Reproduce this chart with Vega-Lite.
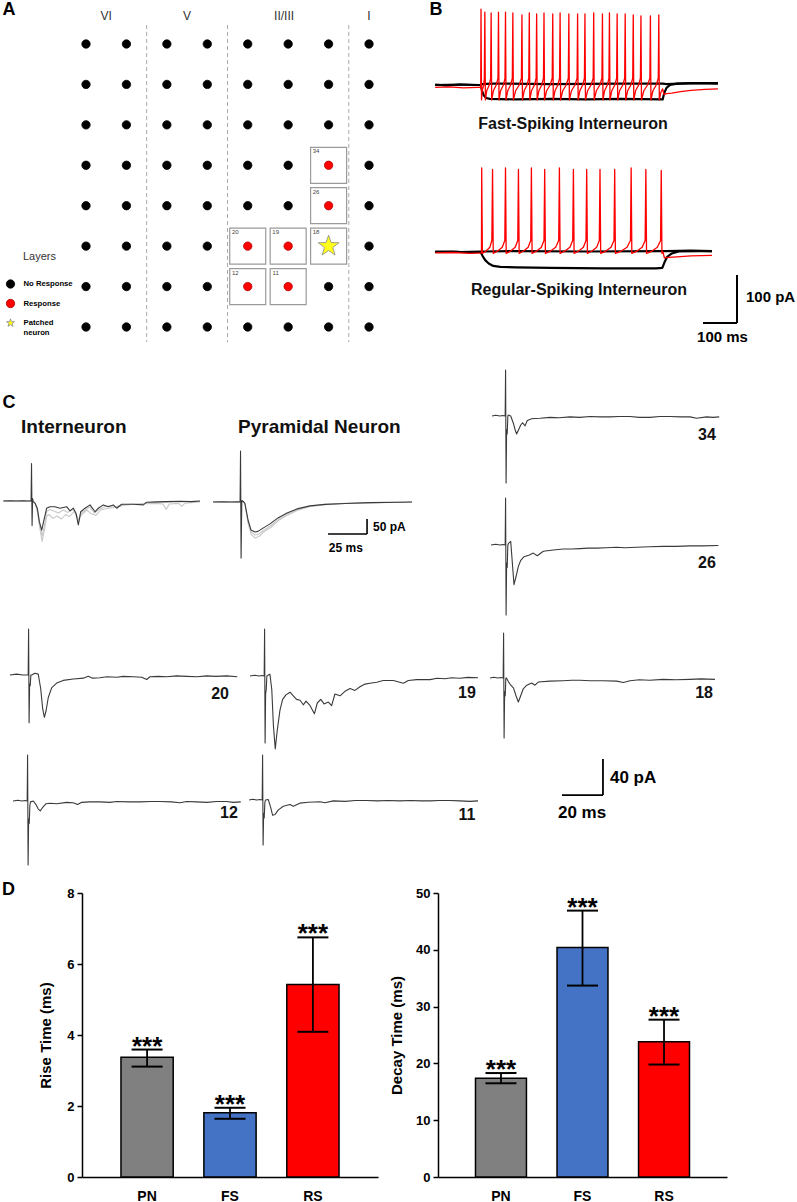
{
"$schema": "https://vega.github.io/schema/vega-lite/v6.json",
"background": "white",
"padding": 0,
"spacing": 0,
"config": {
  "view": {"stroke": null},
  "font": "Liberation Sans",
  "line": {"strokeJoin": "round"},
  "concat": {"spacing": 0}
},
"datasets": {
  "grid": [
    {"col":1,"row":1,"status":"No Response"},{"col":2,"row":1,"status":"No Response"},{"col":3,"row":1,"status":"No Response"},{"col":4,"row":1,"status":"No Response"},{"col":5,"row":1,"status":"No Response"},{"col":6,"row":1,"status":"No Response"},{"col":7,"row":1,"status":"No Response"},{"col":8,"row":1,"status":"No Response"},
    {"col":1,"row":2,"status":"No Response"},{"col":2,"row":2,"status":"No Response"},{"col":3,"row":2,"status":"No Response"},{"col":4,"row":2,"status":"No Response"},{"col":5,"row":2,"status":"No Response"},{"col":6,"row":2,"status":"No Response"},{"col":7,"row":2,"status":"No Response"},{"col":8,"row":2,"status":"No Response"},
    {"col":1,"row":3,"status":"No Response"},{"col":2,"row":3,"status":"No Response"},{"col":3,"row":3,"status":"No Response"},{"col":4,"row":3,"status":"No Response"},{"col":5,"row":3,"status":"No Response"},{"col":6,"row":3,"status":"No Response"},{"col":7,"row":3,"status":"No Response"},{"col":8,"row":3,"status":"No Response"},
    {"col":1,"row":4,"status":"No Response"},{"col":2,"row":4,"status":"No Response"},{"col":3,"row":4,"status":"No Response"},{"col":4,"row":4,"status":"No Response"},{"col":5,"row":4,"status":"No Response"},{"col":6,"row":4,"status":"No Response"},{"col":7,"row":4,"status":"Response"},{"col":8,"row":4,"status":"No Response"},
    {"col":1,"row":5,"status":"No Response"},{"col":2,"row":5,"status":"No Response"},{"col":3,"row":5,"status":"No Response"},{"col":4,"row":5,"status":"No Response"},{"col":5,"row":5,"status":"No Response"},{"col":6,"row":5,"status":"No Response"},{"col":7,"row":5,"status":"Response"},{"col":8,"row":5,"status":"No Response"},
    {"col":1,"row":6,"status":"No Response"},{"col":2,"row":6,"status":"No Response"},{"col":3,"row":6,"status":"No Response"},{"col":4,"row":6,"status":"No Response"},{"col":5,"row":6,"status":"Response"},{"col":6,"row":6,"status":"Response"},{"col":7,"row":6,"status":"Patched neuron"},{"col":8,"row":6,"status":"No Response"},
    {"col":1,"row":7,"status":"No Response"},{"col":2,"row":7,"status":"No Response"},{"col":3,"row":7,"status":"No Response"},{"col":4,"row":7,"status":"No Response"},{"col":5,"row":7,"status":"Response"},{"col":6,"row":7,"status":"Response"},{"col":7,"row":7,"status":"No Response"},{"col":8,"row":7,"status":"No Response"},
    {"col":1,"row":8,"status":"No Response"},{"col":2,"row":8,"status":"No Response"},{"col":3,"row":8,"status":"No Response"},{"col":4,"row":8,"status":"No Response"},{"col":5,"row":8,"status":"No Response"},{"col":6,"row":8,"status":"No Response"},{"col":7,"row":8,"status":"No Response"},{"col":8,"row":8,"status":"No Response"}
  ],
  "boxes": [
    {"col":7,"row":4,"site":"34"},{"col":7,"row":5,"site":"26"},{"col":5,"row":6,"site":"20"},{"col":6,"row":6,"site":"19"},{"col":7,"row":6,"site":"18"},{"col":5,"row":7,"site":"12"},{"col":6,"row":7,"site":"11"}
  ],
  "boundaries": [{"between":2.5},{"between":4.5},{"between":7.5}],
  "layers": [{"layer":"VI","center":1.5},{"layer":"V","center":3.5},{"layer":"II/III","center":5.9},{"layer":"I","center":8}],
  "fs_black": [
    {"sweep":"hyper","t":-131,"v":1},{"sweep":"hyper","t":-100,"v":-1},{"sweep":"hyper","t":-60,"v":1},{"sweep":"hyper","t":-20,"v":0},{"sweep":"hyper","t":-1,"v":0},{"sweep":"hyper","t":3,"v":-12},{"sweep":"hyper","t":8,"v":-22},{"sweep":"hyper","t":15,"v":-27},{"sweep":"hyper","t":25,"v":-29},{"sweep":"hyper","t":100,"v":-30},{"sweep":"hyper","t":200,"v":-29},{"sweep":"hyper","t":300,"v":-30},{"sweep":"hyper","t":400,"v":-29},{"sweep":"hyper","t":519,"v":-30},{"sweep":"hyper","t":523,"v":-18},{"sweep":"hyper","t":530,"v":-6},{"sweep":"hyper","t":540,"v":0},{"sweep":"hyper","t":560,"v":3},{"sweep":"hyper","t":620,"v":4},{"sweep":"hyper","t":677,"v":3},
    {"sweep":"sub","t":-131,"v":0},{"sweep":"sub","t":-60,"v":1},{"sweep":"sub","t":-1,"v":0},{"sweep":"sub","t":5,"v":2},{"sweep":"sub","t":30,"v":3},{"sweep":"sub","t":200,"v":2},{"sweep":"sub","t":400,"v":3},{"sweep":"sub","t":519,"v":3},{"sweep":"sub","t":530,"v":2},{"sweep":"sub","t":600,"v":4},{"sweep":"sub","t":677,"v":4}
  ],
  "fs_red": [
    {"t":-131,"v":-5},{"t":-90,"v":-4},{"t":-50,"v":-6},{"t":-10,"v":-5},{"t":-0.8,"v":-5},{"t":0,"v":158},
    {"t":1.5,"v":-31},{"t":3.3,"v":-12},{"t":7.7,"v":0},{"t":9.5,"v":14},{"t":11,"v":152},
    {"t":12.5,"v":-31},{"t":16.4,"v":-12},{"t":23.6,"v":0},{"t":27.5,"v":14},{"t":29,"v":150},
    {"t":30.5,"v":-31},{"t":35.3,"v":-12},{"t":43.7,"v":0},{"t":48.5,"v":14},{"t":50,"v":152},
    {"t":51.5,"v":-31},{"t":56,"v":-12},{"t":64,"v":0},{"t":68.5,"v":14},{"t":70,"v":152},
    {"t":71.5,"v":-31},{"t":76.3,"v":-12},{"t":84.7,"v":0},{"t":89.5,"v":14},{"t":91,"v":150},
    {"t":92.5,"v":-31},{"t":98.8,"v":-12},{"t":109.2,"v":0},{"t":115.5,"v":14},{"t":117,"v":146},
    {"t":118.5,"v":-31},{"t":123.3,"v":-12},{"t":131.7,"v":0},{"t":136.5,"v":14},{"t":138,"v":150},
    {"t":139.5,"v":-31},{"t":144.3,"v":-12},{"t":152.7,"v":0},{"t":157.5,"v":14},{"t":159,"v":148},
    {"t":160.5,"v":-31},{"t":165.3,"v":-12},{"t":173.7,"v":0},{"t":178.5,"v":14},{"t":180,"v":150},
    {"t":181.5,"v":-31},{"t":187.5,"v":-12},{"t":197.5,"v":0},{"t":203.5,"v":14},{"t":205,"v":148},
    {"t":206.5,"v":-31},{"t":211.3,"v":-12},{"t":219.7,"v":0},{"t":224.5,"v":14},{"t":226,"v":150},
    {"t":227.5,"v":-31},{"t":233.5,"v":-12},{"t":243.5,"v":0},{"t":249.5,"v":14},{"t":251,"v":148},
    {"t":252.5,"v":-31},{"t":258.5,"v":-12},{"t":268.5,"v":0},{"t":274.5,"v":14},{"t":276,"v":148},
    {"t":277.5,"v":-31},{"t":282.3,"v":-12},{"t":290.7,"v":0},{"t":295.5,"v":14},{"t":297,"v":148},
    {"t":298.5,"v":-31},{"t":304.5,"v":-12},{"t":314.5,"v":0},{"t":320.5,"v":14},{"t":322,"v":150},
    {"t":323.5,"v":-31},{"t":329.5,"v":-12},{"t":339.5,"v":0},{"t":345.5,"v":14},{"t":347,"v":148},
    {"t":348.5,"v":-31},{"t":353,"v":-12},{"t":361,"v":0},{"t":365.5,"v":14},{"t":367,"v":150},
    {"t":368.5,"v":-31},{"t":373.6,"v":-12},{"t":382.4,"v":0},{"t":387.5,"v":14},{"t":389,"v":148},
    {"t":390.5,"v":-31},{"t":395.9,"v":-12},{"t":405.1,"v":0},{"t":410.5,"v":14},{"t":412,"v":148},
    {"t":413.5,"v":-31},{"t":418.9,"v":-12},{"t":428.1,"v":0},{"t":433.5,"v":14},{"t":435,"v":146},
    {"t":436.5,"v":-31},{"t":441.6,"v":-12},{"t":450.4,"v":0},{"t":455.5,"v":14},{"t":457,"v":144},
    {"t":458.5,"v":-31},{"t":465.1,"v":-12},{"t":475.9,"v":0},{"t":482.5,"v":14},{"t":484,"v":144},
    {"t":485.5,"v":-31},{"t":491.2,"v":-12},{"t":500.8,"v":0},{"t":506.5,"v":14},{"t":508,"v":146},
    {"t":509.5,"v":-31},{"t":514,"v":-15},{"t":519,"v":-8},{"t":523,"v":-20},{"t":530,"v":-18},{"t":545,"v":-17},{"t":570,"v":-14},{"t":600,"v":-11},{"t":640,"v":-9},{"t":677,"v":-8}
  ],
  "rs_black": [
    {"sweep":"hyper","t":-131,"v":0},{"sweep":"hyper","t":-80,"v":1},{"sweep":"hyper","t":-30,"v":-1},{"sweep":"hyper","t":-1,"v":0},{"sweep":"hyper","t":5,"v":-9},{"sweep":"hyper","t":12,"v":-17},{"sweep":"hyper","t":22,"v":-24},{"sweep":"hyper","t":35,"v":-29},{"sweep":"hyper","t":55,"v":-31},{"sweep":"hyper","t":100,"v":-32},{"sweep":"hyper","t":200,"v":-33},{"sweep":"hyper","t":350,"v":-34},{"sweep":"hyper","t":500,"v":-34},{"sweep":"hyper","t":518,"v":-33},{"sweep":"hyper","t":524,"v":-22},{"sweep":"hyper","t":532,"v":-10},{"sweep":"hyper","t":545,"v":-3},{"sweep":"hyper","t":565,"v":1},{"sweep":"hyper","t":620,"v":2},{"sweep":"hyper","t":660,"v":2},
    {"sweep":"sub","t":-131,"v":1},{"sweep":"sub","t":-60,"v":0},{"sweep":"sub","t":-1,"v":1},{"sweep":"sub","t":10,"v":1},{"sweep":"sub","t":100,"v":2},{"sweep":"sub","t":300,"v":1},{"sweep":"sub","t":518,"v":2},{"sweep":"sub","t":530,"v":2},{"sweep":"sub","t":600,"v":3},{"sweep":"sub","t":660,"v":2}
  ],
  "rs_red": [
    {"t":-131,"v":-2},{"t":-80,"v":-1},{"t":-30,"v":-3},{"t":1.3,"v":-2},{"t":2,"v":175},
    {"t":4,"v":-3},{"t":14.4,"v":2},{"t":25.3,"v":10},{"t":31,"v":24},{"t":33,"v":172},
    {"t":35,"v":-3},{"t":47.8,"v":2},{"t":60.8,"v":10},{"t":68,"v":24},{"t":70,"v":175},
    {"t":72,"v":-3},{"t":84.8,"v":2},{"t":97.8,"v":10},{"t":105,"v":24},{"t":107,"v":172},
    {"t":109,"v":-3},{"t":121.8,"v":2},{"t":134.8,"v":10},{"t":142,"v":24},{"t":144,"v":175},
    {"t":146,"v":-3},{"t":159.2,"v":2},{"t":172.5,"v":10},{"t":180,"v":24},{"t":182,"v":172},
    {"t":184,"v":-3},{"t":198.8,"v":2},{"t":213.5,"v":10},{"t":222,"v":24},{"t":224,"v":175},
    {"t":226,"v":-3},{"t":240,"v":2},{"t":254,"v":10},{"t":262,"v":24},{"t":264,"v":172},
    {"t":266,"v":-3},{"t":279.2,"v":2},{"t":292.5,"v":10},{"t":300,"v":24},{"t":302,"v":172},
    {"t":304,"v":-3},{"t":317.2,"v":2},{"t":330.5,"v":10},{"t":338,"v":24},{"t":340,"v":172},
    {"t":342,"v":-3},{"t":356.8,"v":2},{"t":371.5,"v":10},{"t":380,"v":24},{"t":382,"v":172},
    {"t":384,"v":-3},{"t":400.8,"v":2},{"t":417.3,"v":10},{"t":427,"v":24},{"t":429,"v":175},
    {"t":431,"v":-3},{"t":445.8,"v":2},{"t":460.5,"v":10},{"t":469,"v":24},{"t":471,"v":172},
    {"t":473,"v":-3},{"t":488.6,"v":2},{"t":504,"v":10},{"t":513,"v":24},{"t":515,"v":170},
    {"t":517,"v":-3},{"t":520,"v":0},{"t":524,"v":-12},{"t":535,"v":-11},{"t":560,"v":-10},{"t":600,"v":-8},{"t":660,"v":-7}
  ],
  "int_black": [
    {"t":-18.4,"v":0},{"t":-14,"v":1},{"t":-10,"v":0},{"t":-6,"v":1},{"t":-3,"v":0},{"t":-0.6,"v":0},{"t":-0.3,"v":125},{"t":0.05,"v":-82},{"t":0.4,"v":8},{"t":0.8,"v":-3},{"t":1.9,"v":-7},{"t":3.4,"v":-24},{"t":4.7,"v":-69},{"t":6.2,"v":-97},{"t":7.7,"v":-63},{"t":9.4,"v":-24},{"t":11.5,"v":-19},{"t":14.7,"v":-19},{"t":17.9,"v":-24},{"t":22.2,"v":-19},{"t":24.4,"v":-33},{"t":26.5,"v":-24},{"t":28.2,"v":-41},{"t":29.7,"v":-80},{"t":31.2,"v":-36},{"t":34,"v":-24},{"t":37.2,"v":-13},{"t":40.4,"v":-36},{"t":42.5,"v":-24},{"t":45.7,"v":-13},{"t":48.9,"v":-19},{"t":52.1,"v":-13},{"t":54.3,"v":-24},{"t":57.5,"v":-11},{"t":64.9,"v":-11},{"t":71.4,"v":-13},{"t":73.5,"v":-4},{"t":80,"v":-3},{"t":86.3,"v":-2},{"t":95,"v":-1},{"t":102,"v":-2},{"t":107.7,"v":0}
  ],
  "int_gray": [
    {"sweep":"g1","t":-18.4,"v":0},{"sweep":"g1","t":-10,"v":1},{"sweep":"g1","t":-0.6,"v":0},{"sweep":"g1","t":1,"v":0},{"sweep":"g1","t":2.2,"v":-12},{"sweep":"g1","t":3.6,"v":-40},{"sweep":"g1","t":5,"v":-90},{"sweep":"g1","t":6.5,"v":-135},{"sweep":"g1","t":8,"v":-95},{"sweep":"g1","t":9.5,"v":-50},{"sweep":"g1","t":11,"v":-45},{"sweep":"g1","t":13.5,"v":-58},{"sweep":"g1","t":16,"v":-50},{"sweep":"g1","t":19,"v":-60},{"sweep":"g1","t":21.5,"v":-45},{"sweep":"g1","t":24,"v":-52},{"sweep":"g1","t":27,"v":-35},{"sweep":"g1","t":29.5,"v":-62},{"sweep":"g1","t":32,"v":-45},{"sweep":"g1","t":35,"v":-30},{"sweep":"g1","t":38,"v":-42},{"sweep":"g1","t":41,"v":-48},{"sweep":"g1","t":44,"v":-30},{"sweep":"g1","t":48,"v":-25},{"sweep":"g1","t":52,"v":-22},{"sweep":"g1","t":56,"v":-15},{"sweep":"g1","t":62,"v":-12},{"sweep":"g1","t":70,"v":-9},{"sweep":"g1","t":78,"v":-8},{"sweep":"g1","t":84,"v":-10},{"sweep":"g1","t":86,"v":-28},{"sweep":"g1","t":88,"v":-10},{"sweep":"g1","t":94,"v":-8},{"sweep":"g1","t":96,"v":-18},{"sweep":"g1","t":98,"v":-7},{"sweep":"g1","t":107.7,"v":-3},
    {"sweep":"g2","t":-18.4,"v":1},{"sweep":"g2","t":-10,"v":0},{"sweep":"g2","t":-0.6,"v":1},{"sweep":"g2","t":1,"v":0},{"sweep":"g2","t":2,"v":-6},{"sweep":"g2","t":3.5,"v":-30},{"sweep":"g2","t":5,"v":-75},{"sweep":"g2","t":6.4,"v":-118},{"sweep":"g2","t":8,"v":-80},{"sweep":"g2","t":9.5,"v":-35},{"sweep":"g2","t":11.5,"v":-28},{"sweep":"g2","t":14,"v":-33},{"sweep":"g2","t":17,"v":-40},{"sweep":"g2","t":20,"v":-30},{"sweep":"g2","t":23,"v":-38},{"sweep":"g2","t":26,"v":-28},{"sweep":"g2","t":28.5,"v":-45},{"sweep":"g2","t":30,"v":-68},{"sweep":"g2","t":31.5,"v":-40},{"sweep":"g2","t":34,"v":-30},{"sweep":"g2","t":37,"v":-20},{"sweep":"g2","t":40,"v":-40},{"sweep":"g2","t":43,"v":-28},{"sweep":"g2","t":47,"v":-18},{"sweep":"g2","t":51,"v":-16},{"sweep":"g2","t":55,"v":-20},{"sweep":"g2","t":60,"v":-12},{"sweep":"g2","t":68,"v":-10},{"sweep":"g2","t":75,"v":-6},{"sweep":"g2","t":85,"v":-4},{"sweep":"g2","t":95,"v":-3},{"sweep":"g2","t":107.7,"v":-1}
  ],
  "pyr_black": [
    {"t":-17.9,"v":0},{"t":-12,"v":1},{"t":-6,"v":0},{"t":-2,"v":1},{"t":-0.6,"v":0},{"t":-0.3,"v":170},{"t":0.05,"v":-187},{"t":0.5,"v":5},{"t":1.5,"v":2},{"t":2.5,"v":-5},{"t":4.5,"v":-60},{"t":6.4,"v":-93},{"t":9,"v":-100},{"t":10.9,"v":-98},{"t":14.1,"v":-87},{"t":18.6,"v":-73},{"t":23.7,"v":-53},{"t":29.5,"v":-37},{"t":35.9,"v":-23},{"t":44.2,"v":-13},{"t":53.8,"v":-8},{"t":66.7,"v":-5},{"t":82.7,"v":-2},{"t":101.9,"v":-1},{"t":109.6,"v":0}
  ],
  "pyr_gray": [
    {"sweep":"g1","t":-17.9,"v":1},{"sweep":"g1","t":-6,"v":0},{"sweep":"g1","t":-0.6,"v":1},{"sweep":"g1","t":1,"v":2},{"sweep":"g1","t":2.5,"v":-6},{"sweep":"g1","t":4.5,"v":-70},{"sweep":"g1","t":6.5,"v":-108},{"sweep":"g1","t":9,"v":-120},{"sweep":"g1","t":11.5,"v":-115},{"sweep":"g1","t":14.5,"v":-100},{"sweep":"g1","t":19,"v":-85},{"sweep":"g1","t":24,"v":-62},{"sweep":"g1","t":30,"v":-43},{"sweep":"g1","t":36,"v":-28},{"sweep":"g1","t":44,"v":-16},{"sweep":"g1","t":54,"v":-9},{"sweep":"g1","t":67,"v":-5},{"sweep":"g1","t":83,"v":-3},{"sweep":"g1","t":102,"v":-1},{"sweep":"g1","t":109.6,"v":0},
    {"sweep":"g2","t":-17.9,"v":0},{"sweep":"g2","t":-6,"v":1},{"sweep":"g2","t":-0.6,"v":0},{"sweep":"g2","t":1,"v":1},{"sweep":"g2","t":2.5,"v":-4},{"sweep":"g2","t":4.5,"v":-65},{"sweep":"g2","t":6.5,"v":-100},{"sweep":"g2","t":9,"v":-110},{"sweep":"g2","t":11,"v":-108},{"sweep":"g2","t":14.3,"v":-95},{"sweep":"g2","t":18.8,"v":-80},{"sweep":"g2","t":24,"v":-58},{"sweep":"g2","t":30,"v":-40},{"sweep":"g2","t":36,"v":-25},{"sweep":"g2","t":44,"v":-14},{"sweep":"g2","t":54,"v":-8},{"sweep":"g2","t":67,"v":-4},{"sweep":"g2","t":83,"v":-2},{"sweep":"g2","t":102,"v":-1},{"sweep":"g2","t":109.6,"v":0}
  ],
  "t20": [
    {"t":-9.3,"v":0},{"t":-6,"v":1},{"t":-3,"v":0},{"t":-0.4,"v":0},{"t":-0.2,"v":51},{"t":0.05,"v":-53},{"t":0.3,"v":-10},{"t":0.6,"v":-12},{"t":0.9,"v":0},{"t":1.3,"v":0},{"t":2.9,"v":2},{"t":4.5,"v":1},{"t":5.7,"v":-15},{"t":6.7,"v":-38},{"t":7.5,"v":-47},{"t":8.3,"v":-40},{"t":9.4,"v":-25},{"t":11.1,"v":-14},{"t":13.5,"v":-9},{"t":16.7,"v":-6},{"t":21.6,"v":-4.5},{"t":26.5,"v":-3.5},{"t":28.9,"v":-1.5},{"t":31,"v":-3.5},{"t":34.6,"v":-3},{"t":38,"v":-2},{"t":42.8,"v":-2.5},{"t":46,"v":-1.5},{"t":50.9,"v":-2},{"t":55,"v":-2.5},{"t":57.4,"v":-5},{"t":59,"v":-2},{"t":63,"v":-1.5},{"t":67.2,"v":-2},{"t":72,"v":-1},{"t":76.9,"v":-1.5},{"t":82,"v":-2},{"t":86.7,"v":-1},{"t":91,"v":-1.5},{"t":96.4,"v":-1},{"t":101.6,"v":-2}
  ],
  "t19": [
    {"t":-7.3,"v":0},{"t":-5,"v":0.8},{"t":-3,"v":0},{"t":-1.5,"v":0.5},{"t":-0.4,"v":0},{"t":-0.2,"v":52.2},{"t":0.05,"v":-74.4},{"t":0.3,"v":-20},{"t":0.6,"v":-15},{"t":0.9,"v":0},{"t":1.6,"v":1},{"t":2.4,"v":2},{"t":3.3,"v":-15},{"t":4.1,"v":-55},{"t":5,"v":-81},{"t":6,"v":-60},{"t":7.3,"v":-38},{"t":8.6,"v":-26},{"t":10.2,"v":-21},{"t":12.2,"v":-18},{"t":13.8,"v":-22},{"t":15.4,"v":-26},{"t":17.1,"v":-27},{"t":18.7,"v":-32},{"t":20,"v":-28},{"t":22,"v":-33},{"t":24.1,"v":-42},{"t":25.5,"v":-30},{"t":27.2,"v":-26},{"t":28.8,"v":-31},{"t":30.9,"v":-29},{"t":32.5,"v":-33},{"t":34.1,"v":-20},{"t":36.6,"v":-22},{"t":39,"v":-17},{"t":41.5,"v":-14},{"t":43.9,"v":-16},{"t":46.3,"v":-12},{"t":48.8,"v":-9},{"t":51.2,"v":-8},{"t":54.5,"v":-7},{"t":57.7,"v":-5},{"t":62.6,"v":-5},{"t":67.5,"v":-8},{"t":69.9,"v":-5},{"t":74,"v":-4},{"t":80.5,"v":-4},{"t":84,"v":-2.5},{"t":87.8,"v":-3},{"t":91,"v":-2},{"t":95.1,"v":-2.5},{"t":99,"v":-1.5},{"t":103.9,"v":-2}
  ],
  "t12": [
    {"t":-7.3,"v":0},{"t":-5,"v":0.8},{"t":-3,"v":0},{"t":-1.5,"v":0.5},{"t":-0.4,"v":0},{"t":-0.2,"v":51.1},{"t":0.05,"v":-71.1},{"t":0.3,"v":-20},{"t":0.6,"v":-25},{"t":0.9,"v":-5},{"t":1.2,"v":-1},{"t":2.6,"v":0},{"t":3.9,"v":-4},{"t":5,"v":-9},{"t":6,"v":-11},{"t":7.2,"v":-7},{"t":8.8,"v":-3},{"t":10.7,"v":-2.5},{"t":14,"v":-3},{"t":18.9,"v":-1.5},{"t":22,"v":-2},{"t":24.2,"v":-4},{"t":26.2,"v":-1.5},{"t":30,"v":-1},{"t":35.1,"v":-1},{"t":40,"v":-1.5},{"t":43.3,"v":-0.5},{"t":49,"v":-1},{"t":54.6,"v":-1},{"t":60,"v":-0.5},{"t":64.4,"v":-0.5},{"t":70,"v":-1},{"t":74.1,"v":-2},{"t":77.4,"v":-0.5},{"t":82,"v":-1},{"t":87.2,"v":-1.5},{"t":92,"v":-0.5},{"t":96.9,"v":-0.5},{"t":100,"v":-1.5},{"t":103.8,"v":-1}
  ],
  "t11": [
    {"t":-6.8,"v":0},{"t":-5,"v":0.8},{"t":-3,"v":0},{"t":-1.5,"v":0.5},{"t":-0.4,"v":0},{"t":-0.2,"v":50},{"t":0.05,"v":-50},{"t":0.3,"v":-15},{"t":0.6,"v":-20},{"t":0.9,"v":-3},{"t":1.2,"v":0},{"t":2.6,"v":0.5},{"t":3.7,"v":-8},{"t":4.7,"v":-17},{"t":5.9,"v":-16},{"t":7.5,"v":-11},{"t":9.9,"v":-7},{"t":13.2,"v":-5},{"t":14.8,"v":-7},{"t":18,"v":-3.5},{"t":22,"v":-2.5},{"t":27.8,"v":-2},{"t":30.2,"v":-3},{"t":34.3,"v":-1},{"t":40,"v":-1.5},{"t":45,"v":-0.5},{"t":50.6,"v":-0.5},{"t":56,"v":-1},{"t":61,"v":-0.5},{"t":66.8,"v":-1},{"t":72,"v":-0.5},{"t":77,"v":-1},{"t":81.5,"v":-1},{"t":86,"v":-0.5},{"t":91.2,"v":-0.5},{"t":96,"v":-1},{"t":101,"v":-1.5},{"t":104.9,"v":-1}
  ],
  "t34": [
    {"t":-6.8,"v":0},{"t":-5,"v":0.8},{"t":-3,"v":0},{"t":-1.5,"v":0.5},{"t":-0.4,"v":0},{"t":-0.2,"v":51.1},{"t":0.05,"v":-74.4},{"t":0.3,"v":-15},{"t":0.6,"v":-20},{"t":0.9,"v":0},{"t":1.1,"v":1},{"t":2.3,"v":0},{"t":3.6,"v":-8},{"t":4.4,"v":-15},{"t":5.2,"v":-20},{"t":6.2,"v":-15},{"t":7.2,"v":-10},{"t":8.1,"v":-7.5},{"t":9.3,"v":-11},{"t":10.4,"v":-5},{"t":12.5,"v":-3},{"t":16.6,"v":-2.5},{"t":21.5,"v":-1.5},{"t":26,"v":-2},{"t":31.2,"v":-1},{"t":36,"v":-1.5},{"t":41,"v":-0.5},{"t":46,"v":-1},{"t":50.7,"v":-1},{"t":55,"v":-0.5},{"t":60.5,"v":-0.5},{"t":65,"v":-1.5},{"t":70.2,"v":-1.5},{"t":75,"v":-0.5},{"t":80,"v":-0.5},{"t":85,"v":-1},{"t":89.8,"v":-1},{"t":93,"v":-2.5},{"t":97.9,"v":-1},{"t":101,"v":-1.5},{"t":104,"v":-1}
  ],
  "t26": [
    {"t":-7.3,"v":0},{"t":-5,"v":0.8},{"t":-3,"v":0},{"t":-1.5,"v":0.5},{"t":-0.4,"v":0},{"t":-0.2,"v":52.2},{"t":0.05,"v":-77.8},{"t":0.3,"v":-20},{"t":0.6,"v":-25},{"t":0.9,"v":0},{"t":1.3,"v":2},{"t":2.3,"v":4},{"t":3.1,"v":-20},{"t":3.9,"v":-44},{"t":4.9,"v":-35},{"t":6,"v":-24},{"t":7.2,"v":-17},{"t":8.8,"v":-13},{"t":11.4,"v":-11},{"t":13.3,"v":-9},{"t":15.3,"v":-12},{"t":18.2,"v":-7},{"t":23.1,"v":-5.5},{"t":28,"v":-4.5},{"t":32,"v":-4.5},{"t":36.1,"v":-4},{"t":40,"v":-3.5},{"t":44.2,"v":-3.5},{"t":49,"v":-3},{"t":54,"v":-2.5},{"t":58,"v":-3},{"t":63.7,"v":-2.5},{"t":70,"v":-2},{"t":76.7,"v":-1.5},{"t":83,"v":-1.5},{"t":89.8,"v":-1},{"t":96,"v":-1},{"t":103.6,"v":-0.5}
  ],
  "t18": [
    {"t":-6.8,"v":0},{"t":-5,"v":0.8},{"t":-3,"v":0},{"t":-1.5,"v":0.5},{"t":-0.4,"v":0},{"t":-0.2,"v":50},{"t":0.05,"v":-66.7},{"t":0.3,"v":-15},{"t":0.6,"v":-20},{"t":0.9,"v":0},{"t":1.2,"v":0},{"t":2.1,"v":-4},{"t":3.3,"v":-8},{"t":4.6,"v":-11},{"t":5.9,"v":-20},{"t":7,"v":-26.7},{"t":8.1,"v":-20},{"t":9.4,"v":-12},{"t":11.1,"v":-8},{"t":13.5,"v":-5.5},{"t":15.1,"v":-8},{"t":16.7,"v":-4.5},{"t":22.4,"v":-3.5},{"t":28.9,"v":-3},{"t":33,"v":-2.5},{"t":37.1,"v":-2.5},{"t":42,"v":-3},{"t":48.4,"v":-3},{"t":55,"v":-3.5},{"t":58.2,"v":-5},{"t":61.5,"v":-3},{"t":66,"v":-2},{"t":71,"v":-2.5},{"t":77.7,"v":-1.5},{"t":84,"v":-2},{"t":90.7,"v":-1.5},{"t":96,"v":-1},{"t":102.9,"v":-1.5}
  ],
  "rise": [
    {"cell":"PN","mean":3.37,"lo":3.11,"hi":3.59,"sig":"***"},
    {"cell":"FS","mean":1.81,"lo":1.64,"hi":1.95,"sig":"***"},
    {"cell":"RS","mean":5.42,"lo":4.09,"hi":6.75,"sig":"***"}
  ],
  "decay": [
    {"cell":"PN","mean":17.4,"lo":16.5,"hi":18.3,"sig":"***"},
    {"cell":"FS","mean":40.4,"lo":33.7,"hi":46.9,"sig":"***"},
    {"cell":"RS","mean":23.8,"lo":19.8,"hi":27.7,"sig":"***"}
  ]
},
"vconcat": [
  {
    "hconcat": [
      {
        "width": 400, "height": 350,
        "layer": [
          {
            "data": {"name": "boxes"},
            "mark": {"type": "point", "shape": "square", "size": 1296, "filled": false, "stroke": "#9a9a9a", "strokeWidth": 1.2, "opacity": 1},
            "encoding": {
              "x": {"field": "col", "type": "quantitative", "scale": {"domain": [-1.127, 8.766], "nice": false, "zero": false}, "axis": null},
              "y": {"field": "row", "type": "quantitative", "scale": {"domain": [-0.088, 8.569], "nice": false, "zero": false, "reverse": true}, "axis": null}
            }
          },
          {
            "data": {"name": "boxes"},
            "mark": {"type": "text", "fontSize": 6, "color": "#444444", "dx": -12.5, "dy": -14},
            "encoding": {
              "x": {"field": "col", "type": "quantitative"},
              "y": {"field": "row", "type": "quantitative"},
              "text": {"field": "site"}
            }
          },
          {
            "data": {"name": "boundaries"},
            "mark": {"type": "rule", "stroke": "#aaaaaa", "strokeDash": [4, 3], "strokeWidth": 1},
            "encoding": {
              "x": {"field": "between", "type": "quantitative"},
              "y": {"datum": 0.53},
              "y2": {"datum": 8.37}
            }
          },
          {
            "data": {"name": "grid"},
            "mark": {"type": "point", "filled": true, "opacity": 1, "strokeWidth": 0.8},
            "encoding": {
              "x": {"field": "col", "type": "quantitative"},
              "y": {"field": "row", "type": "quantitative"},
              "color": {"field": "status", "type": "nominal", "scale": {"domain": ["No Response", "Response", "Patched neuron"], "range": ["#000000", "#ff0000", "#ffff1a"]},
                "legend": {"title": "Layers", "orient": "none", "legendX": 5.5, "legendY": 251, "padding": 0, "titleFontWeight": "normal", "titleFontSize": 11, "titleColor": "#333333", "titleAnchor": "middle", "titlePadding": 17, "labelFontSize": 7.7, "labelFontWeight": "bold", "labelColor": "#000000", "labelOffset": 8, "rowPadding": 7.5, "symbolSize": 70, "symbolStrokeWidth": 0.8, "labelExpr": "datum.label === 'Patched neuron' ? ['Patched', 'neuron'] : datum.label", "encode": {"symbols": {"update": {"size": {"signal": "datum.value === 'Patched neuron' ? 190 : 70"}}}}}},
              "shape": {"field": "status", "type": "nominal", "scale": {"domain": ["No Response", "Response", "Patched neuron"], "range": ["circle", "circle", "M0,-1L0.235,-0.324L0.951,-0.309L0.38,0.124L0.588,0.809L0,0.4L-0.588,0.809L-0.38,0.124L-0.951,-0.309L-0.235,-0.324Z"]},
                "legend": {"title": "Layers", "orient": "none", "legendX": 5.5, "legendY": 251, "padding": 0, "titleFontWeight": "normal", "titleFontSize": 11, "titleColor": "#333333", "titleAnchor": "middle", "titlePadding": 17, "labelFontSize": 7.7, "labelFontWeight": "bold", "labelColor": "#000000", "labelOffset": 8, "rowPadding": 7.5, "symbolSize": 70, "symbolStrokeWidth": 0.8, "labelExpr": "datum.label === 'Patched neuron' ? ['Patched', 'neuron'] : datum.label", "encode": {"symbols": {"update": {"size": {"signal": "datum.value === 'Patched neuron' ? 190 : 70"}}}}}},
              "stroke": {"field": "status", "type": "nominal", "scale": {"domain": ["No Response", "Response", "Patched neuron"], "range": ["#000000", "#b00000", "#8a8a8a"]},
                "legend": {"title": "Layers", "orient": "none", "legendX": 5.5, "legendY": 251, "padding": 0, "titleFontWeight": "normal", "titleFontSize": 11, "titleColor": "#333333", "titleAnchor": "middle", "titlePadding": 17, "labelFontSize": 7.7, "labelFontWeight": "bold", "labelColor": "#000000", "labelOffset": 8, "rowPadding": 7.5, "symbolSize": 70, "symbolStrokeWidth": 0.8, "labelExpr": "datum.label === 'Patched neuron' ? ['Patched', 'neuron'] : datum.label", "encode": {"symbols": {"update": {"size": {"signal": "datum.value === 'Patched neuron' ? 190 : 70"}}}}}},
              "size": {"condition": {"test": "datum.status === 'Patched neuron'", "value": 484}, "value": 70}
            }
          },
          {
            "data": {"name": "layers"},
            "mark": {"type": "text", "fontSize": 12, "color": "#333333"},
            "encoding": {
              "x": {"field": "center", "type": "quantitative"},
              "y": {"datum": 0.307},
              "text": {"field": "layer"}
            }
          },
          {
            "data": {"values": [{"panel": "A"}]},
            "mark": {"type": "text", "fontSize": 18, "fontWeight": "bold", "color": "#000000"},
            "encoding": {
              "x": {"datum": -0.905},
              "y": {"datum": 0.159},
              "text": {"field": "panel"}
            }
          }
        ]
      },
      {
        "width": 397, "height": 350,
        "resolve": {"scale": {"y": "independent"}},
        "layer": [
          {
            "layer": [
              {
                "data": {"name": "fs_black"},
                "mark": {"type": "line", "color": "#000000", "strokeWidth": 2.2},
                "encoding": {
                  "x": {"field": "t", "type": "quantitative", "scale": {"domain": [-231.43, 902.86], "nice": false, "zero": false}, "axis": null},
                  "y": {"field": "v", "type": "quantitative", "scale": {"domain": [-552.08, 177.08], "nice": false, "zero": false}, "axis": null},
                  "detail": {"field": "sweep"}
                }
              },
              {
                "data": {"name": "fs_red"},
                "mark": {"type": "line", "color": "#ff0000", "strokeWidth": 1.3},
                "encoding": {
                  "x": {"field": "t", "type": "quantitative"},
                  "y": {"field": "v", "type": "quantitative"}
                }
              },
              {
                "data": {"values": [{"label": "Fast-Spiking Interneuron"}]},
                "mark": {"type": "text", "fontSize": 16, "fontWeight": "bold", "color": "#111111"},
                "encoding": {"x": {"datum": 262.9}, "y": {"datum": -81.25}, "text": {"field": "label"}}
              },
              {
                "data": {"values": [{"panel": "B"}]},
                "mark": {"type": "text", "fontSize": 18, "fontWeight": "bold", "color": "#000000"},
                "encoding": {"x": {"datum": -128.6}, "y": {"datum": 156.25}, "text": {"field": "panel"}}
              }
            ]
          },
          {
            "layer": [
              {
                "data": {"name": "rs_black"},
                "mark": {"type": "line", "color": "#000000", "strokeWidth": 2.2},
                "encoding": {
                  "x": {"field": "t", "type": "quantitative"},
                  "y": {"field": "v", "type": "quantitative", "scale": {"domain": [-204.17, 525], "nice": false, "zero": false}, "axis": null},
                  "detail": {"field": "sweep"}
                }
              },
              {
                "data": {"name": "rs_red"},
                "mark": {"type": "line", "color": "#ff0000", "strokeWidth": 1.3},
                "encoding": {
                  "x": {"field": "t", "type": "quantitative"},
                  "y": {"field": "v", "type": "quantitative"}
                }
              },
              {
                "data": {"values": [{"label": "Regular-Spiking Interneuron"}]},
                "mark": {"type": "text", "fontSize": 16, "fontWeight": "bold", "color": "#111111"},
                "encoding": {"x": {"datum": 280}, "y": {"datum": -79.2}, "text": {"field": "label"}}
              },
              {
                "data": {"values": [{"bar": "100 pA"}]},
                "mark": {"type": "rule", "color": "#000000", "strokeWidth": 2},
                "encoding": {"x": {"datum": 731.4}, "y": {"datum": -47.9}, "y2": {"datum": -147.9}}
              },
              {
                "data": {"values": [{"bar": "100 ms"}]},
                "mark": {"type": "rule", "color": "#000000", "strokeWidth": 2},
                "encoding": {"x": {"datum": 634.3}, "x2": {"datum": 731.4}, "y": {"datum": -147.9}}
              },
              {
                "data": {"values": [{"label": "100 pA"}]},
                "mark": {"type": "text", "fontSize": 15, "fontWeight": "bold", "align": "left", "color": "#000000"},
                "encoding": {"x": {"datum": 757}, "y": {"datum": -93.75}, "text": {"field": "label"}}
              },
              {
                "data": {"values": [{"label": "100 ms"}]},
                "mark": {"type": "text", "fontSize": 15, "fontWeight": "bold", "color": "#000000"},
                "encoding": {"x": {"datum": 690}, "y": {"datum": -177}, "text": {"field": "label"}}
              }
            ]
          }
        ]
      }
    ],
    "spacing": 0,
    "bounds": "flush"
  },
  {
    "hconcat": [
      {
        "width": 245, "height": 531,
        "resolve": {"scale": {"x": "independent", "y": "independent"}},
        "layer": [
          {
            "layer": [
              {
                "data": {"name": "int_gray"},
                "mark": {"type": "line", "color": "#c8c8c8", "strokeWidth": 1.1},
                "encoding": {
                  "x": {"field": "t", "type": "quantitative", "scale": {"domain": [-20.51, 136.54], "nice": false, "zero": false}, "axis": null},
                  "y": {"field": "v", "type": "quantitative", "scale": {"domain": [-1266.67, 503.33], "nice": false, "zero": false}, "axis": null},
                  "detail": {"field": "sweep"}
                }
              },
              {
                "data": {"name": "int_black"},
                "mark": {"type": "line", "color": "#3a3a3a", "strokeWidth": 1.1},
                "encoding": {"x": {"field": "t", "type": "quantitative"}, "y": {"field": "v", "type": "quantitative"}}
              },
              {
                "data": {"values": [{"title": "Interneuron"}]},
                "mark": {"type": "text", "fontSize": 19, "fontWeight": "bold", "align": "left", "color": "#111111"},
                "encoding": {"x": {"datum": -7.05}, "y": {"datum": 246.7}, "text": {"field": "title"}}
              },
              {
                "data": {"values": [{"panel": "C"}]},
                "mark": {"type": "text", "fontSize": 18, "fontWeight": "bold", "color": "#000000"},
                "encoding": {"x": {"datum": -14.7}, "y": {"datum": 326.7}, "text": {"field": "panel"}}
              }
            ]
          },
          {
            "layer": [
              {
                "data": {"name": "t20"},
                "mark": {"type": "line", "color": "#3a3a3a", "strokeWidth": 1.1},
                "encoding": {
                  "x": {"field": "t", "type": "quantitative", "scale": {"domain": [-14.15, 105.37], "nice": false, "zero": false}, "axis": null},
                  "y": {"field": "v", "type": "quantitative", "scale": {"domain": [-228.89, 361.11], "nice": false, "zero": false}, "axis": null}
                }
              },
              {
                "data": {"values": [{"site": "20"}]},
                "mark": {"type": "text", "fontSize": 16, "fontWeight": "bold", "color": "#111111"},
                "encoding": {"x": {"datum": 93.2}, "y": {"datum": -21.1}, "text": {"field": "site"}}
              }
            ]
          },
          {
            "layer": [
              {
                "data": {"name": "t12"},
                "mark": {"type": "line", "color": "#3a3a3a", "strokeWidth": 1.1},
                "encoding": {
                  "x": {"field": "t", "type": "quantitative", "scale": {"domain": [-13.66, 105.85], "nice": false, "zero": false}, "axis": null},
                  "y": {"field": "v", "type": "quantitative", "scale": {"domain": [-88.89, 501.11], "nice": false, "zero": false}, "axis": null}
                }
              },
              {
                "data": {"values": [{"site": "12"}]},
                "mark": {"type": "text", "fontSize": 16, "fontWeight": "bold", "color": "#111111"},
                "encoding": {"x": {"datum": 98}, "y": {"datum": -13.3}, "text": {"field": "site"}}
              }
            ]
          }
        ]
      },
      {
        "width": 240, "height": 531,
        "resolve": {"scale": {"x": "independent", "y": "independent"}},
        "layer": [
          {
            "layer": [
              {
                "data": {"name": "pyr_gray"},
                "mark": {"type": "line", "color": "#c8c8c8", "strokeWidth": 1.1},
                "encoding": {
                  "x": {"field": "t", "type": "quantitative", "scale": {"domain": [2.56, 156.41], "nice": false, "zero": false}, "axis": null},
                  "y": {"field": "v", "type": "quantitative", "scale": {"domain": [-1263.33, 506.67], "nice": false, "zero": false}, "axis": null},
                  "detail": {"field": "sweep"}
                }
              },
              {
                "data": {"name": "pyr_black"},
                "mark": {"type": "line", "color": "#3a3a3a", "strokeWidth": 1.1},
                "encoding": {"x": {"field": "t", "type": "quantitative"}, "y": {"field": "v", "type": "quantitative"}}
              },
              {
                "data": {"values": [{"title": "Pyramidal Neuron"}]},
                "mark": {"type": "text", "fontSize": 19, "fontWeight": "bold", "align": "left", "color": "#111111"},
                "encoding": {"x": {"datum": -1.92}, "y": {"datum": 250}, "text": {"field": "title"}}
              },
              {
                "data": {"values": [{"bar": "50 pA"}]},
                "mark": {"type": "rule", "color": "#000000", "strokeWidth": 1.6},
                "encoding": {"x": {"datum": 80.8}, "y": {"datum": -56.7}, "y2": {"datum": -106.7}}
              },
              {
                "data": {"values": [{"bar": "25 ms"}]},
                "mark": {"type": "rule", "color": "#000000", "strokeWidth": 1.6},
                "encoding": {"x": {"datum": 55.8}, "x2": {"datum": 80.8}, "y": {"datum": -106.7}}
              },
              {
                "data": {"values": [{"label": "50 pA"}]},
                "mark": {"type": "text", "fontSize": 12, "fontWeight": "bold", "align": "left", "color": "#000000"},
                "encoding": {"x": {"datum": 84.6}, "y": {"datum": -83.3}, "text": {"field": "label"}}
              },
              {
                "data": {"values": [{"label": "25 ms"}]},
                "mark": {"type": "text", "fontSize": 12, "fontWeight": "bold", "color": "#000000"},
                "encoding": {"x": {"datum": 67.2}, "y": {"datum": -153.3}, "text": {"field": "label"}}
              }
            ]
          },
          {
            "layer": [
              {
                "data": {"name": "t19"},
                "mark": {"type": "line", "color": "#3a3a3a", "strokeWidth": 1.1},
                "encoding": {
                  "x": {"field": "t", "type": "quantitative", "scale": {"domain": [-9.76, 107.32], "nice": false, "zero": false}, "axis": null},
                  "y": {"field": "v", "type": "quantitative", "scale": {"domain": [-227.78, 362.22], "nice": false, "zero": false}, "axis": null}
                }
              },
              {
                "data": {"values": [{"site": "19"}]},
                "mark": {"type": "text", "fontSize": 16, "fontWeight": "bold", "color": "#111111"},
                "encoding": {"x": {"datum": 98.5}, "y": {"datum": -18.9}, "text": {"field": "site"}}
              }
            ]
          },
          {
            "layer": [
              {
                "data": {"name": "t11"},
                "mark": {"type": "line", "color": "#3a3a3a", "strokeWidth": 1.1},
                "encoding": {
                  "x": {"field": "t", "type": "quantitative", "scale": {"domain": [-8.78, 108.29], "nice": false, "zero": false}, "axis": null},
                  "y": {"field": "v", "type": "quantitative", "scale": {"domain": [-90, 500], "nice": false, "zero": false}, "axis": null}
                }
              },
              {
                "data": {"values": [{"site": "11"}]},
                "mark": {"type": "text", "fontSize": 16, "fontWeight": "bold", "color": "#111111"},
                "encoding": {"x": {"datum": 99.5}, "y": {"datum": -16.7}, "text": {"field": "site"}}
              }
            ]
          }
        ]
      },
      {
        "width": 312, "height": 531,
        "resolve": {"scale": {"x": "independent", "y": "independent"}},
        "layer": [
          {
            "layer": [
              {
                "data": {"name": "t34"},
                "mark": {"type": "line", "color": "#3a3a3a", "strokeWidth": 1.1},
                "encoding": {
                  "x": {"field": "t", "type": "quantitative", "scale": {"domain": [-10.24, 141.95], "nice": false, "zero": false}, "axis": null},
                  "y": {"field": "v", "type": "quantitative", "scale": {"domain": [-516.67, 73.33], "nice": false, "zero": false}, "axis": null}
                }
              },
              {
                "data": {"values": [{"site": "34"}]},
                "mark": {"type": "text", "fontSize": 16, "fontWeight": "bold", "color": "#111111"},
                "encoding": {"x": {"datum": 98}, "y": {"datum": -21.1}, "text": {"field": "site"}}
              }
            ]
          },
          {
            "layer": [
              {
                "data": {"name": "t26"},
                "mark": {"type": "line", "color": "#3a3a3a", "strokeWidth": 1.1},
                "encoding": {
                  "x": {"field": "t", "type": "quantitative", "scale": {"domain": [-10.24, 141.95], "nice": false, "zero": false}, "axis": null},
                  "y": {"field": "v", "type": "quantitative", "scale": {"domain": [-373.33, 216.67], "nice": false, "zero": false}, "axis": null}
                }
              },
              {
                "data": {"values": [{"site": "26"}]},
                "mark": {"type": "text", "fontSize": 16, "fontWeight": "bold", "color": "#111111"},
                "encoding": {"x": {"datum": 98}, "y": {"datum": -20}, "text": {"field": "site"}}
              }
            ]
          },
          {
            "layer": [
              {
                "data": {"name": "t18"},
                "mark": {"type": "line", "color": "#3a3a3a", "strokeWidth": 1.1},
                "encoding": {
                  "x": {"field": "t", "type": "quantitative", "scale": {"domain": [-9.27, 142.93], "nice": false, "zero": false}, "axis": null},
                  "y": {"field": "v", "type": "quantitative", "scale": {"domain": [-225.56, 364.44], "nice": false, "zero": false}, "axis": null}
                }
              },
              {
                "data": {"values": [{"site": "18"}]},
                "mark": {"type": "text", "fontSize": 16, "fontWeight": "bold", "color": "#111111"},
                "encoding": {"x": {"datum": 97.6}, "y": {"datum": -16.7}, "text": {"field": "site"}}
              }
            ]
          },
          {
            "layer": [
              {
                "data": {"values": [{"bar": "40 pA"}]},
                "mark": {"type": "rule", "color": "#000000", "strokeWidth": 1.8},
                "encoding": {
                  "x": {"datum": 47.3, "type": "quantitative", "scale": {"domain": [-10.24, 141.95], "nice": false, "zero": false}, "axis": null},
                  "y": {"datum": -15.6, "type": "quantitative", "scale": {"domain": [-151.11, 438.89], "nice": false, "zero": false}, "axis": null},
                  "y2": {"datum": -55.6}
                }
              },
              {
                "data": {"values": [{"bar": "20 ms"}]},
                "mark": {"type": "rule", "color": "#000000", "strokeWidth": 1.8},
                "encoding": {"x": {"datum": 27.3, "type": "quantitative"}, "x2": {"datum": 47.3}, "y": {"datum": -55.6, "type": "quantitative"}}
              },
              {
                "data": {"values": [{"label": "40 pA"}]},
                "mark": {"type": "text", "fontSize": 17, "fontWeight": "bold", "align": "left", "color": "#000000"},
                "encoding": {"x": {"datum": 50.7, "type": "quantitative"}, "y": {"datum": -36.7, "type": "quantitative"}, "text": {"field": "label"}}
              },
              {
                "data": {"values": [{"label": "20 ms"}]},
                "mark": {"type": "text", "fontSize": 17, "fontWeight": "bold", "color": "#000000"},
                "encoding": {"x": {"datum": 37.1, "type": "quantitative"}, "y": {"datum": -75.6, "type": "quantitative"}, "text": {"field": "label"}}
              }
            ]
          }
        ]
      }
    ],
    "spacing": 0,
    "bounds": "flush"
  },
  {
    "hconcat": [
      {
        "width": 82, "height": 284,
        "data": {"values": []},
        "mark": "point",
        "title": {"text": "D", "anchor": "start", "frame": "group", "fontSize": 18, "fontWeight": "bold", "color": "#000000", "offset": -6, "dx": 2}
      },
      {
        "width": 296, "height": 284,
        "data": {"name": "rise"},
        "layer": [
          {
            "mark": {"type": "bar", "stroke": "#000000", "strokeWidth": 1.5},
            "encoding": {
              "x": {"field": "cell", "type": "nominal", "title": null, "scale": {"domain": ["PN", "FS", "RS"], "paddingInner": 0.37, "paddingOuter": 0.47},
                "axis": {"ticks": false, "tickSize": 0, "labelAngle": 0, "labelFontSize": 14, "labelFontWeight": "bold", "labelColor": "#000000", "labelPadding": 12, "domainColor": "#000000", "domainWidth": 1.5, "grid": false}},
              "y": {"field": "mean", "type": "quantitative", "title": "Rise Time (ms)", "scale": {"domain": [0, 8], "nice": false, "zero": false},
                "axis": {"values": [0, 2, 4, 6, 8], "grid": false, "domainColor": "#000000", "domainWidth": 1.5, "tickColor": "#000000", "tickWidth": 1.5, "tickSize": 5, "labelFontSize": 13, "labelFontWeight": "bold", "labelColor": "#000000", "labelPadding": 3, "titleFontSize": 15, "titleFontWeight": "bold", "titleColor": "#000000", "titlePadding": 13}},
              "fill": {"field": "cell", "type": "nominal", "scale": {"domain": ["PN", "FS", "RS"], "range": ["#808080", "#4472c4", "#ff0000"]}, "legend": null}
            }
          },
          {
            "mark": {"type": "rule", "color": "#000000", "strokeWidth": 1.8},
            "encoding": {
              "x": {"field": "cell", "type": "nominal", "title": null},
              "y": {"field": "lo", "type": "quantitative", "title": "Rise Time (ms)"},
              "y2": {"field": "hi"}
            }
          },
          {
            "mark": {"type": "tick", "color": "#000000", "thickness": 2, "size": 31, "opacity": 1},
            "encoding": {
              "x": {"field": "cell", "type": "nominal", "title": null},
              "y": {"field": "hi", "type": "quantitative", "title": "Rise Time (ms)"}
            }
          },
          {
            "mark": {"type": "tick", "color": "#000000", "thickness": 2, "size": 31, "opacity": 1},
            "encoding": {
              "x": {"field": "cell", "type": "nominal", "title": null},
              "y": {"field": "lo", "type": "quantitative", "title": "Rise Time (ms)"}
            }
          },
          {
            "mark": {"type": "text", "fontSize": 26, "fontWeight": "bold", "baseline": "alphabetic", "dy": 5, "color": "#000000"},
            "encoding": {
              "x": {"field": "cell", "type": "nominal", "title": null},
              "y": {"field": "hi", "type": "quantitative", "title": "Rise Time (ms)"},
              "text": {"field": "sig"}
            }
          }
        ]
      },
      {
        "width": 60, "height": 284,
        "data": {"values": []},
        "mark": "point"
      },
      {
        "width": 289, "height": 284,
        "data": {"name": "decay"},
        "layer": [
          {
            "mark": {"type": "bar", "stroke": "#000000", "strokeWidth": 1.5},
            "encoding": {
              "x": {"field": "cell", "type": "nominal", "title": null, "scale": {"domain": ["PN", "FS", "RS"], "paddingInner": 0.375, "paddingOuter": 0.46},
                "axis": {"ticks": false, "tickSize": 0, "labelAngle": 0, "labelFontSize": 14, "labelFontWeight": "bold", "labelColor": "#000000", "labelPadding": 12, "domainColor": "#000000", "domainWidth": 1.5, "grid": false}},
              "y": {"field": "mean", "type": "quantitative", "title": "Decay Time (ms)", "scale": {"domain": [0, 50], "nice": false, "zero": false},
                "axis": {"values": [0, 10, 20, 30, 40, 50], "grid": false, "domainColor": "#000000", "domainWidth": 1.5, "tickColor": "#000000", "tickWidth": 1.5, "tickSize": 5, "labelFontSize": 13, "labelFontWeight": "bold", "labelColor": "#000000", "labelPadding": 3, "titleFontSize": 15, "titleFontWeight": "bold", "titleColor": "#000000", "titlePadding": 11}},
              "fill": {"field": "cell", "type": "nominal", "scale": {"domain": ["PN", "FS", "RS"], "range": ["#808080", "#4472c4", "#ff0000"]}, "legend": null}
            }
          },
          {
            "mark": {"type": "rule", "color": "#000000", "strokeWidth": 1.8},
            "encoding": {
              "x": {"field": "cell", "type": "nominal", "title": null},
              "y": {"field": "lo", "type": "quantitative", "title": "Decay Time (ms)"},
              "y2": {"field": "hi"}
            }
          },
          {
            "mark": {"type": "tick", "color": "#000000", "thickness": 2, "size": 31, "opacity": 1},
            "encoding": {
              "x": {"field": "cell", "type": "nominal", "title": null},
              "y": {"field": "hi", "type": "quantitative", "title": "Decay Time (ms)"}
            }
          },
          {
            "mark": {"type": "tick", "color": "#000000", "thickness": 2, "size": 31, "opacity": 1},
            "encoding": {
              "x": {"field": "cell", "type": "nominal", "title": null},
              "y": {"field": "lo", "type": "quantitative", "title": "Decay Time (ms)"}
            }
          },
          {
            "mark": {"type": "text", "fontSize": 26, "fontWeight": "bold", "baseline": "alphabetic", "dy": 5, "color": "#000000"},
            "encoding": {
              "x": {"field": "cell", "type": "nominal", "title": null},
              "y": {"field": "hi", "type": "quantitative", "title": "Decay Time (ms)"},
              "text": {"field": "sig"}
            }
          }
        ]
      }
    ],
    "spacing": 0,
    "bounds": "flush"
  }
]
}
